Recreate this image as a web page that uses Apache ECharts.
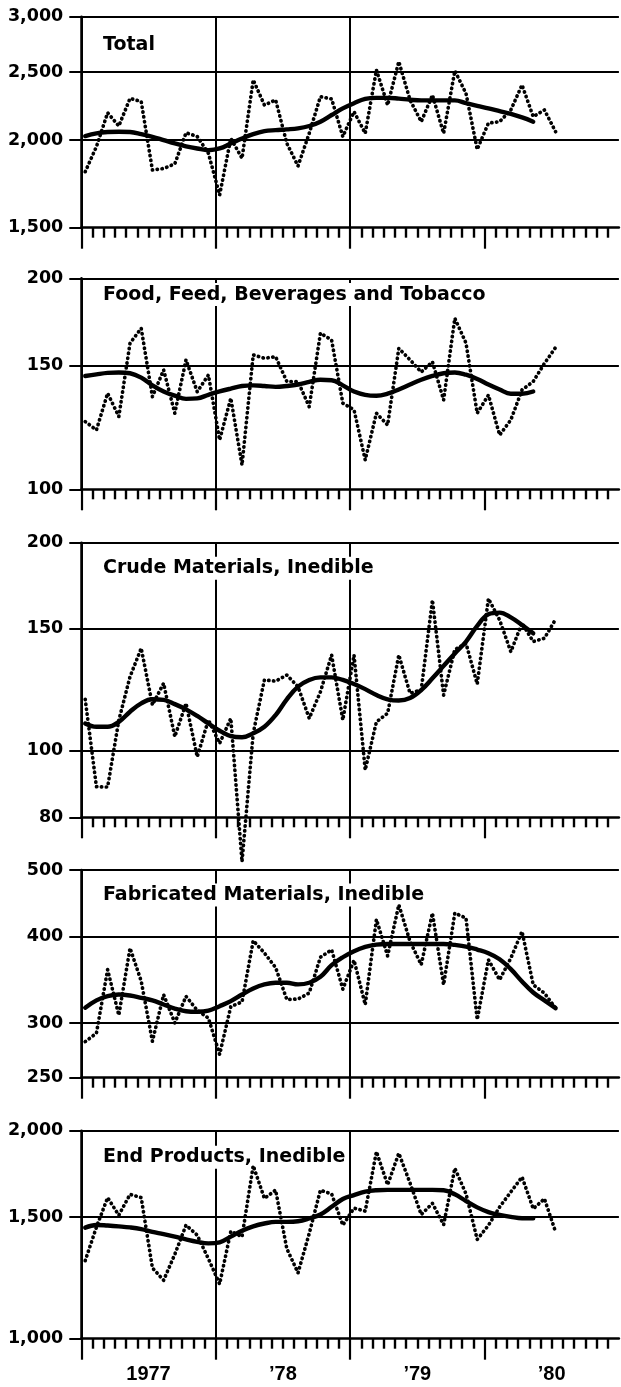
<!DOCTYPE html>
<html><head><meta charset="utf-8">
<script src="https://cdn.jsdelivr.net/npm/echarts@6/dist/echarts.min.js"></script>
<style>html,body{margin:0;padding:0;background:#fff}#c{width:621px;height:1387px}</style>
</head><body><div id="c"></div>
<script>
// ---- data (monthly, Jan 1977 onward) ----
const yearLabels = ['1977', '\u201978', '\u201979', '\u201980'];

const totalTicks = [1500, 2000, 2500, 3000];
const total = [1803,1957,2188,2095,2294,2270,1813,1822,1850,2049,2024,1915,1670,2012,1884,2437,2244,2282,1979,1837,2045,2307,2290,2023,2196,2045,2518,2244,2588,2282,2125,2319,2045,2512,2331,1940,2115,2125,2208,2397,2160,2208,2056];
const totalTrend = [2027,2045,2054,2056,2054,2040,2022,2000,1978,1960,1946,1935,1946,1978,2011,2040,2060,2067,2072,2079,2095,2125,2172,2220,2258,2290,2298,2298,2292,2284,2279,2279,2279,2279,2258,2238,2220,2200,2180,2155,2125];

const foodTicks = [100, 150, 200];
const food = [124.9,121.5,137.1,127,161.6,169.7,135.6,148,128.4,153,137.8,145.6,117.6,134.9,108.3,155.5,153.8,154.6,142.5,142.5,131.2,167,163.3,132.7,129.8,110.1,128.4,123.5,158.9,153,147,152,134.1,175.4,161.6,128.4,136.3,119.5,125.6,138.6,142.5,151.2,159.4];
const foodTrend = [145.1,145.9,146.6,146.8,146.4,144.3,140.7,137.9,136.0,134.6,134.8,136.4,137.9,139.2,140.4,140.7,140.4,140.0,140.4,141.1,142.3,143.3,143.1,140.7,137.9,136.4,136.0,136.9,138.8,141.1,143.3,145.1,146.4,146.8,145.7,143.7,141.1,138.8,136.9,136.9,137.9];

const crudeTicks = [80, 100, 150, 200];
const crude = [118.6,88.6,88.5,110.6,127.9,140.6,116.4,125.1,104.7,117.0,97.9,110.7,102.4,111.3,69.0,105.9,126.5,126,128.6,123.7,111.3,121.6,137.5,110.7,137.5,93.7,110.0,113.2,137.5,121.0,122.4,165.2,120.3,140,142.9,124.8,166,154.5,139.0,152.9,143.8,145.4,154.9];
const crudeTrend = [109.4,108.2,108.2,110.0,113.8,117.0,118.6,118.4,116.7,114.7,112.2,109.4,106.8,104.9,104.5,105.9,108.2,112.5,118.6,123.7,126.5,127.6,127.6,126.5,124.8,122.7,120.3,118.6,118.1,119.1,122.3,127.2,132.6,138.2,143.8,151.5,157.5,158.4,155.9,152.0,147.8];

const fabTicks = [250, 300, 400, 500];
const fab = [282,290,358.5,308,385.3,345,282.3,329.8,300.2,328,313,305,270.2,317,322,395,379,361,324.5,325,331.7,373.7,383.2,336,370,319,424,375.4,445.2,394,364.5,433,341,433,425.8,303.5,370.5,346.6,372.6,407.2,340.9,331.5,315.3];
const fabTrend = [315.7,323.6,328.2,330.0,328.9,326.4,323.6,319.2,314.9,312.1,311.5,312.7,317.4,322.8,330.0,336.7,341.3,343.2,343.2,341.3,343.2,350.1,363.9,373.7,381.3,386.8,389.8,390.6,390.6,390.6,390.6,390.6,390.6,389.4,387.3,383.4,378.7,371.2,359.1,344.7,332.2,323.6,315.3];

const endTicks = [1000, 1500, 2000];
const endp = [1297,1450,1600,1509,1618,1600,1266,1215,1325,1460,1412,1305,1200,1430,1405,1780,1596,1641,1350,1245,1420,1640,1620,1460,1545,1530,1865,1670,1855,1680,1512,1570,1462,1765,1620,1392,1459,1551,1631,1714,1542,1594,1427];
const endTrend = [1448,1461,1458,1454,1449,1441,1428,1417,1405,1392,1381,1374,1379,1405,1433,1454,1468,1476,1476,1479,1493,1513,1552,1593,1614,1632,1640,1642,1642,1642,1642,1642,1640,1618,1582,1549,1525,1511,1501,1494,1494];

const titles = ['Total', 'Food, Feed, Beverages and Tobacco', 'Crude Materials, Inedible', 'Fabricated Materials, Inedible', 'End Products, Inedible'];

// ---- layout ----
const panels = [
  {title: titles[0], dots: total, trend: totalTrend, ticks: totalTicks, top: 16.7, height: 211, capMid: 43.3},
  {title: titles[1], dots: food, trend: foodTrend, ticks: foodTicks, top: 278.3, height: 211, capMid: 293.3},
  {title: titles[2], dots: crude, trend: crudeTrend, ticks: crudeTicks, top: 542.7, height: 274.6, capMid: 567},
  {title: titles[3], dots: fab, trend: fabTrend, ticks: fabTicks, top: 870, height: 207.7, capMid: 893.8},
  {title: titles[4], dots: endp, trend: endTrend, ticks: endTicks, top: 1130.7, height: 208, capMid: 1155.9}
];
const LEFT = 81.3, WIDTH = 537.6, XOFF = 0.35;
const BLACK = '#000';
const fmt = v => String(v).replace(/\B(?=(\d{3})+(?!\d))/g, ',');

const grid = [], xAxis = [], yAxis = [], series = [], graphic = [];
panels.forEach((p, i) => {
  const mn = p.ticks[0], mx = p.ticks[p.ticks.length - 1];
  grid.push({left: LEFT, width: WIDTH, top: p.top, height: p.height, containLabel: false, outerBoundsMode: 'none'});
  xAxis.push({
    type: 'value', gridIndex: i, min: 0, max: 48, interval: 12, position: 'bottom',
    axisLine: {show: true, onZero: false, lineStyle: {color: BLACK, width: 2.5}},
    axisTick: {show: true, length: 21, customValues: [0, 12, 24, 36], lineStyle: {color: BLACK, width: 2.2}},
    minorTick: {show: true, splitNumber: 12, length: 10, lineStyle: {color: BLACK, width: 2.4}},
    splitLine: {show: true, showMaxLine: false, lineStyle: {color: BLACK, width: 2}},
    axisLabel: {show: false}
  });
  yAxis.push({
    type: 'log', logBase: 10, gridIndex: i, min: mn, max: mx,
    axisLine: {show: true, lineStyle: {color: BLACK, width: 2.5}},
    axisTick: {show: true, length: 12, customValues: p.ticks, lineStyle: {color: BLACK, width: 2}},
    axisLabel: {show: true, customValues: p.ticks, margin: 18, formatter: v => fmt(v),
      fontFamily: 'DejaVu Sans', fontWeight: 'bold', fontSize: 17.5, color: BLACK},
    splitLine: {show: false}
  });
  series.push({
    type: 'line', xAxisIndex: i, yAxisIndex: i, z: 3, clip: false,
    data: p.trend.map((v, k) => [k + XOFF, v]),
    symbol: 'none', smooth: 0.4,
    lineStyle: {color: BLACK, width: 4.4, cap: 'round', join: 'round'},
    markLine: {
      silent: true, z: 0, symbol: ['none', 'none'], label: {show: false},
      lineStyle: {color: BLACK, width: 2, type: 'solid'},
      data: p.ticks.slice(1).map(v => ({yAxis: v}))
    }
  });
  series.push({
    type: 'line', xAxisIndex: i, yAxisIndex: i, z: 4, clip: false,
    data: p.dots.map((v, k) => [k + XOFF, v]),
    symbol: 'none',
    lineStyle: {color: BLACK, width: 3.7, type: [0.3, 4.6], cap: 'round', join: 'round'}
  });
  graphic.push({
    type: 'text', x: 100, y: p.capMid + 1.3, z: 1,
    style: {text: p.title, fill: BLACK, font: 'bold 19px "DejaVu Sans"',
      align: 'left', verticalAlign: 'middle', backgroundColor: '#fff', padding: [2, 3]}
  });
});
// year labels under the last panel
xAxis.push({
  type: 'value', gridIndex: 4, min: 0, max: 48, interval: 6, position: 'bottom', offset: 0,
  axisLine: {show: false}, axisTick: {show: false}, splitLine: {show: false},
  axisLabel: {show: true, margin: 26, color: BLACK, fontFamily: 'Liberation Sans', fontWeight: 'bold', fontSize: 20,
    formatter: v => (v % 12 === 6 ? yearLabels[(v - 6) / 12] : '')}
});

const chart = echarts.init(document.getElementById('c'), null, {renderer: 'canvas'});
chart.setOption({animation: false, backgroundColor: '#fff', grid, xAxis, yAxis, series, graphic});
</script>
</body></html>
